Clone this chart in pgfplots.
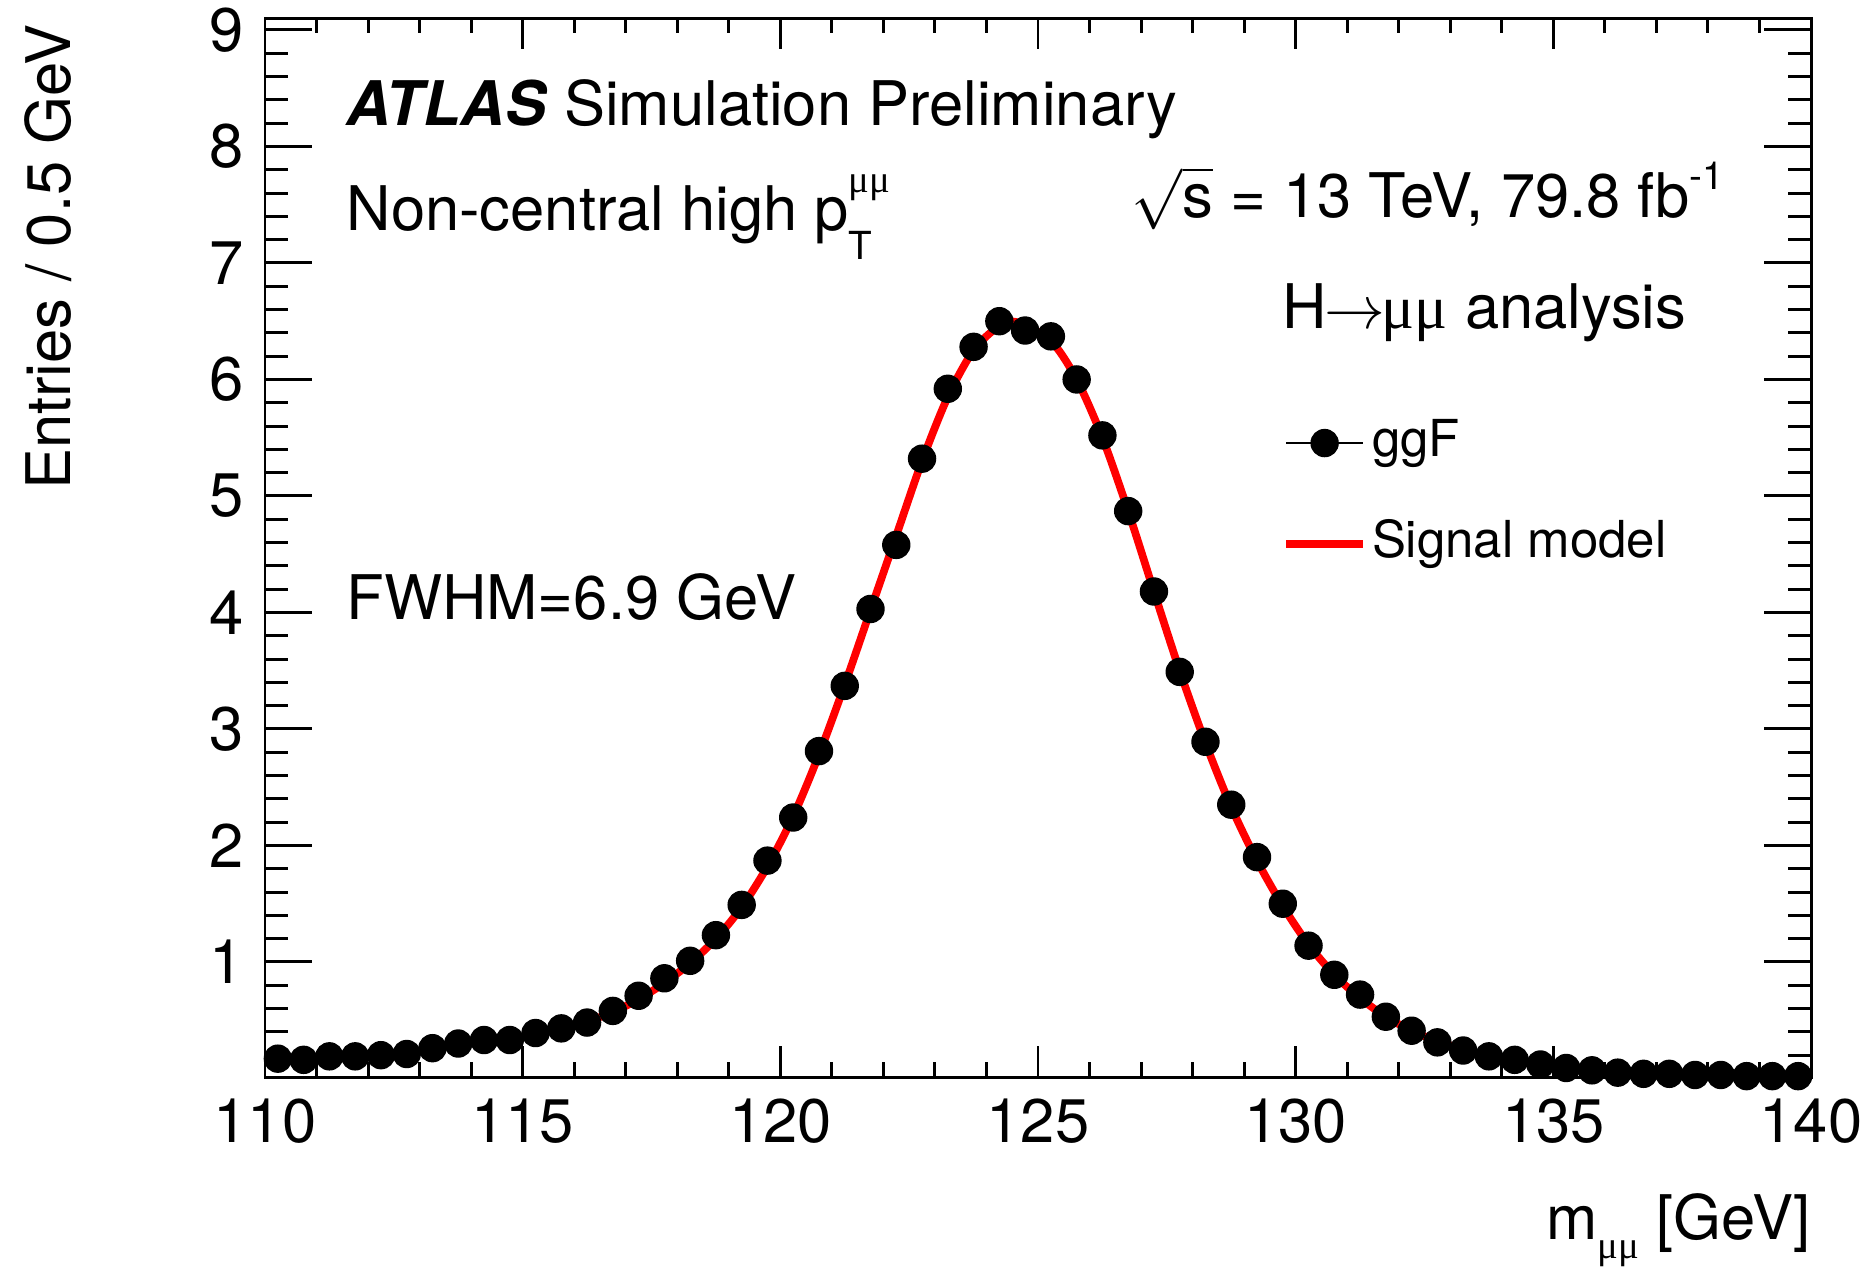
\documentclass[border=0pt]{standalone}
\usepackage{fontspec}
\setmainfont{TeX Gyre Heros}
\newfontfamily\symf{Liberation Serif}
\usepackage{pgfplots}
\pgfplotsset{compat=1.18}
\newcommand{\mumu}{{\symf μμ}}
\newcommand{\fs}{\fontsize{17.5}{21}\selectfont}
\newcommand{\fsl}{\fontsize{14.5}{17}\selectfont}
\newcommand{\fss}{\fontsize{11}{11}\selectfont}
\begin{document}
\fs
\begin{tikzpicture}
\path[use as bounding box] (-26.5mm,-18.87mm) rectangle (160.5mm,107.73mm);
\pgfplotsset{
  common/.style={
    at={(0,0)}, anchor=south west,
    scale only axis, width=154.6mm, height=105.9mm,
    xmin=110, xmax=140, ymin=0.01, ymax=9.1,
    axis line style={line width=0.85pt},
    every tick/.style={black, line width=0.85pt},
    tick align=inside,
    tick label style={font=\fs},
    /pgf/number format/assume math mode=true,
    clip=false,
  }
}
% y ticks
\begin{axis}[common,
  xtick=\empty, minor xtick={},
  ytick={1,2,3,4,5,6,7,8,9},
  minor ytick={0.2,0.4,0.6,0.8,1.2,1.4,1.6,1.8,2.2,2.4,2.6,2.8,3.2,3.4,3.6,3.8,4.2,4.4,4.6,4.8,5.2,5.4,5.6,5.8,6.2,6.4,6.6,6.8,7.2,7.4,7.6,7.8,8.2,8.4,8.6,8.8,9.0},
  major tick length=4.7mm, minor tick length=2.3mm,
]
\addplot[draw=none] coordinates {(110,1)};
\end{axis}
% x ticks, data
\begin{axis}[common,
  ytick=\empty, minor ytick={},
  xtick={110,115,120,125,130,135,140},
  minor xtick={111,112,113,114,116,117,118,119,121,122,123,124,126,127,128,129,131,132,133,134,136,137,138,139},
  major tick length=3.1mm, minor tick length=1.5mm,
  legend style={draw=none, fill=none, inner sep=0pt, outer sep=0pt,
    at={(axis cs:129.74,5.66)}, anchor=north west,
    row sep=5.3mm, column sep=0.5mm,
    nodes={inner sep=0pt, text height=3.7mm, text depth=1.1mm, font=\fsl}},
  legend cell align=left,
]
\addplot[only marks, mark=*, mark size=1.35mm, black,
  legend image code/.code={\draw[black, line width=0.6pt] (-0.2mm,0mm) -- (7.5mm,0mm); \fill[black] (3.65mm,0mm) circle (1.35mm);}]
coordinates {
(110.25,0.17) (110.75,0.16) (111.25,0.19) (111.75,0.19) (112.25,0.20) (112.75,0.21)
(113.25,0.26) (113.75,0.30) (114.25,0.33) (114.75,0.33) (115.25,0.39) (115.75,0.43)
(116.25,0.48) (116.75,0.58) (117.25,0.71) (117.75,0.86) (118.25,1.01) (118.75,1.23)
(119.25,1.49) (119.75,1.87) (120.25,2.24) (120.75,2.81) (121.25,3.37) (121.75,4.03)
(122.25,4.58) (122.75,5.32) (123.25,5.92) (123.75,6.28) (124.25,6.50) (124.75,6.42)
(125.25,6.37) (125.75,6.00) (126.25,5.52) (126.75,4.87) (127.25,4.18) (127.75,3.49)
(128.25,2.89) (128.75,2.35) (129.25,1.90) (129.75,1.50) (130.25,1.14) (130.75,0.89)
(131.25,0.72) (131.75,0.53) (132.25,0.41) (132.75,0.31) (133.25,0.24) (133.75,0.19)
(134.25,0.16) (134.75,0.12) (135.25,0.09) (135.75,0.07) (136.25,0.05) (136.75,0.04)
(137.25,0.04) (137.75,0.03) (138.25,0.03) (138.75,0.02) (139.25,0.02) (139.75,0.02)
};
\addlegendentry{ggF}
\addplot[red, line width=2.2pt, smooth, no marks,
  legend image code/.code={\draw[red, line width=2.2pt] (-0.2mm,0mm) -- (7.5mm,0mm);}]
coordinates {
(115,0.37) (115.25,0.39) (115.75,0.43) (116.25,0.49) (116.75,0.57) (117.25,0.68)
(117.75,0.82) (118.25,0.99) (118.75,1.20) (119.25,1.47) (119.75,1.82) (120.25,2.25)
(120.75,2.78) (121.25,3.38) (121.75,4.02) (122.25,4.66) (122.75,5.30) (123.25,5.85)
(123.75,6.25) (124.25,6.46) (124.6,6.49) (125.25,6.33) (125.75,6.00) (126.25,5.50)
(126.75,4.87) (127.25,4.18) (127.75,3.50) (128.25,2.88) (128.75,2.33) (129.25,1.87)
(129.75,1.48) (130.25,1.15) (130.75,0.89) (131.25,0.69) (131.75,0.53) (132.25,0.41)
(132.75,0.32) (133.25,0.25) (133.75,0.19) (134.25,0.15) (134.75,0.12) (135,0.105)
};
\addlegendentry{Signal model}
\node[anchor=base west, inner sep=0pt, font=\fs] at (axis cs:111.57,8.18) {\textbf{\textit{ATLAS}} Simulation Preliminary};
\node[anchor=base west, inner sep=0pt, font=\fs] at (axis cs:111.57,7.28) {Non-central high p\rlap{\raisebox{0.62em}{\fss\mumu}}\raisebox{-0.48em}{\fss T}};
\node[anchor=base west, inner sep=0pt, font=\fs] at (axis cs:126.81,7.39) {$\sqrt{\mbox{s}}$ = 13 TeV, 79.8 fb\raisebox{0.45em}{\fss -1}};
\node[anchor=base west, inner sep=0pt, font=\fs] at (axis cs:129.74,6.44) {H\kern-0.05em$\rightarrow$\kern-0.05em\mumu{} analysis};
\node[anchor=base west, inner sep=0pt, font=\fs] at (axis cs:111.57,3.94) {FWHM=6.9 GeV};
\node[anchor=base east, rotate=90, inner sep=0pt, font=\fs] at (axis cs:106.235,9.05) {Entries / 0.5 GeV};
\node[anchor=base east, inner sep=0pt, font=\fs] at (axis cs:140,-1.386) {m\raisebox{-0.3em}{\fss\mumu} [GeV]};
\end{axis}
\end{tikzpicture}
\end{document}
